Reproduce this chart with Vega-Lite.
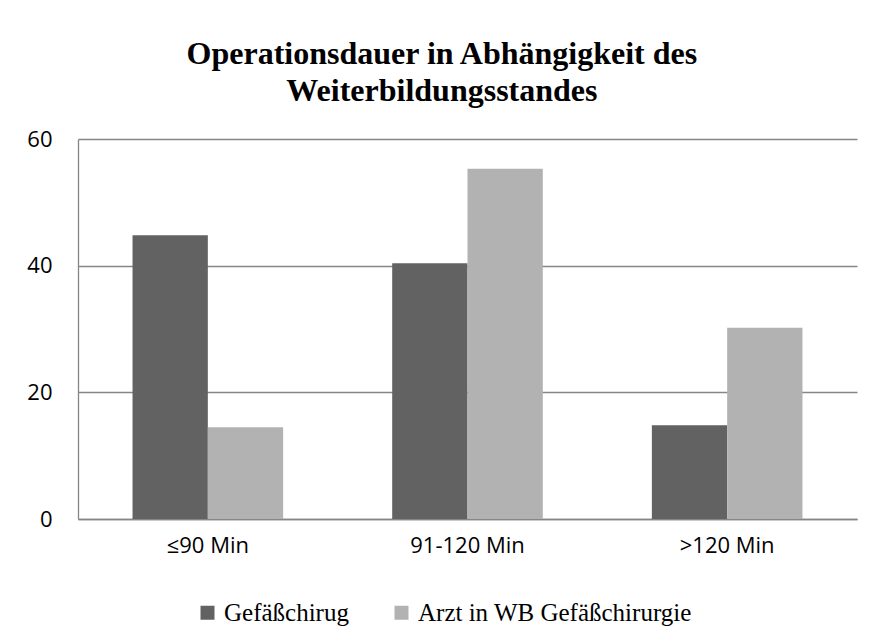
{
  "$schema": "https://vega.github.io/schema/vega-lite/v6.json",
  "width": 779,
  "height": 380,
  "autosize": {"type": "none"},
  "padding": {"left": 78, "top": 139, "right": 16, "bottom": 123},
  "background": "white",
  "title": {
    "text": ["Operationsdauer in Abhängigkeit des", "Weiterbildungsstandes"],
    "font": "Liberation Serif",
    "fontSize": 32,
    "fontWeight": "bold",
    "color": "#000000",
    "anchor": "middle",
    "frame": "bounds",
    "offset": 20,
    "lineHeight": 37
  },
  "data": {
    "values": [
      {"cat": "≤90 Min", "group": "Gefäßchirug", "value": 44.8},
      {"cat": "≤90 Min", "group": "Arzt in WB Gefäßchirurgie", "value": 14.5},
      {"cat": "91-120 Min", "group": "Gefäßchirug", "value": 40.4},
      {"cat": "91-120 Min", "group": "Arzt in WB Gefäßchirurgie", "value": 55.3},
      {"cat": ">120 Min", "group": "Gefäßchirug", "value": 14.8},
      {"cat": ">120 Min", "group": "Arzt in WB Gefäßchirurgie", "value": 30.2}
    ]
  },
  "mark": {"type": "bar"},
  "encoding": {
    "x": {
      "field": "cat",
      "type": "nominal",
      "sort": ["≤90 Min", "91-120 Min", ">120 Min"],
      "scale": {"paddingInner": 0.42, "paddingOuter": 0.21},
      "axis": {
        "title": null,
        "labelAngle": 0,
        "labelFont": "Open Sans",
        "labelFontSize": 22,
        "labelColor": "#000000",
        "labelPadding": 16,
        "ticks": false,
        "domainColor": "#868686",
        "domainWidth": 1.3
      }
    },
    "xOffset": {
      "field": "group",
      "type": "nominal",
      "sort": ["Gefäßchirug", "Arzt in WB Gefäßchirurgie"]
    },
    "y": {
      "field": "value",
      "type": "quantitative",
      "scale": {"domain": [0, 60]},
      "axis": {
        "title": null,
        "values": [0, 20, 40, 60],
        "labelFont": "Open Sans",
        "labelFontSize": 22,
        "labelColor": "#000000",
        "labelPadding": 26,
        "ticks": false,
        "domainColor": "#868686",
        "domainWidth": 1.3,
        "gridColor": "#868686",
        "gridWidth": 1.3
      }
    },
    "color": {
      "field": "group",
      "type": "nominal",
      "sort": ["Gefäßchirug", "Arzt in WB Gefäßchirurgie"],
      "scale": {"range": ["#626262", "#b2b2b2"]},
      "legend": {
        "title": null,
        "orient": "none",
        "legendX": 117,
        "legendY": 461,
        "direction": "horizontal",
        "symbolType": "square",
        "symbolSize": 196,
        "symbolStrokeWidth": 0,
        "labelFont": "Liberation Serif",
        "labelFontSize": 25,
        "labelColor": "#000000",
        "labelLimit": 0,
        "columnPadding": 40,
        "labelOffset": 4
      }
    }
  },
  "config": {
    "view": {"stroke": null}
  }
}
